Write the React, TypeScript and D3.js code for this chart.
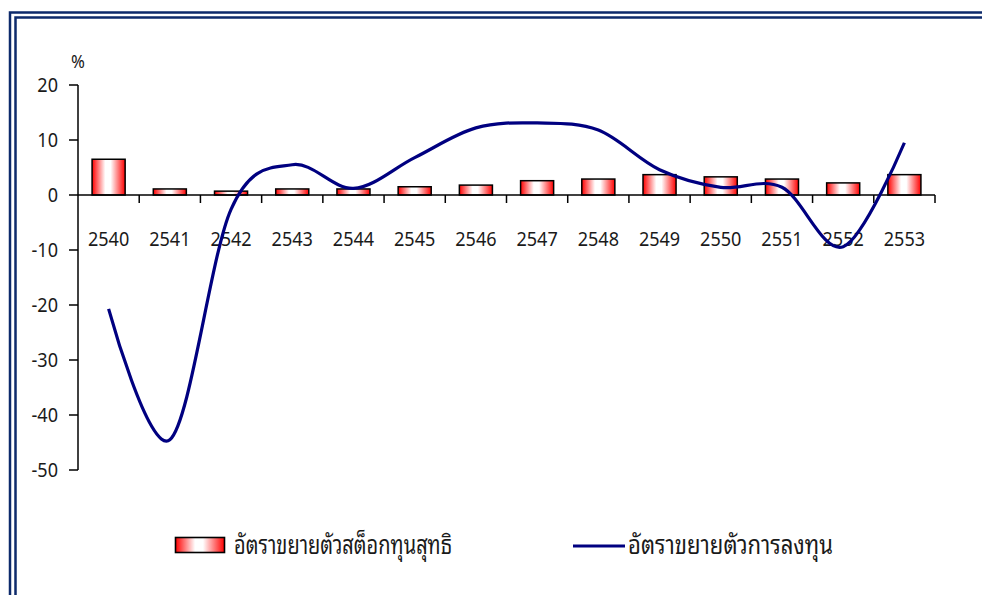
import { useEffect, useRef } from 'react'
import * as d3 from 'd3'

// ปี พ.ศ.
const years = ['2540', '2541', '2542', '2543', '2544', '2545', '2546', '2547', '2548', '2549', '2550', '2551', '2552', '2553']
// อัตราขยายตัวสต็อกทุนสุทธิ (bars)
const stockGrowth = [6.5, 1.1, 0.7, 1.1, 1.1, 1.5, 1.8, 2.6, 2.9, 3.7, 3.3, 2.9, 2.2, 3.7]
// อัตราขยายตัวการลงทุน (line)
const investGrowth = [-20.7, -44.5, -2.6, 5.5, 1.2, 6.8, 12.2, 13.1, 11.8, 4.6, 1.4, 1.4, -9.4, 9.5]
const yTicks = [20, 10, 0, -10, -20, -30, -40, -50]

const barLabel = 'อัตราขยายตัวสต็อกทุนสุทธิ'
const lineLabel = 'อัตราขยายตัวการลงทุน'

const W = 982
const H = 595
const numFont = "Tahoma, 'Noto Sans', 'DejaVu Sans', sans-serif"
const thaiFont =
  "Tahoma, 'Noto Sans Thai Looped', Loma, Garuda, Waree, 'Tlwg Typo', 'Noto Sans Thai', 'Noto Sans', sans-serif"
const ink = '#1a1a1a'
const sx = 0.88 // ตัวอักษรในภาพต้นฉบับแคบกว่าปกติ

export default function App() {
  const svgRef = useRef<SVGSVGElement | null>(null)

  useEffect(() => {
    if (!svgRef.current) return
    const svg = d3.select(svgRef.current)
    svg.selectAll('*').remove()

    const x = d3.scaleBand<string>().domain(years).range([78, 935]).padding(0)
    const y = d3.scaleLinear().domain([-50, 20]).range([470, 85])
    const bw = x.bandwidth()

    // gradient for bars
    const defs = svg.append('defs')
    const grad = defs
      .append('linearGradient')
      .attr('id', 'barGrad')
      .attr('x1', '0%')
      .attr('x2', '100%')
      .attr('y1', '0%')
      .attr('y2', '0%')
    grad.append('stop').attr('offset', '0%').attr('stop-color', '#ff0000')
    grad.append('stop').attr('offset', '40%').attr('stop-color', '#ffffff')
    grad.append('stop').attr('offset', '56%').attr('stop-color', '#ffffff')
    grad.append('stop').attr('offset', '100%').attr('stop-color', '#ff0000')

    // frame (double border)
    ;[[10, 12.5], [15.5, 17.5]].forEach(([fx, fy]) => {
      svg
        .append('rect')
        .attr('x', fx)
        .attr('y', fy)
        .attr('width', W + 20)
        .attr('height', H + 20)
        .attr('fill', 'none')
        .attr('stroke', '#0d2a6b')
        .attr('stroke-width', 2.5)
    })

    // bars
    svg
      .append('g')
      .selectAll('rect')
      .data(years)
      .join('rect')
      .attr('x', (d) => (x(d) ?? 0) + bw * 0.23)
      .attr('width', bw * 0.54)
      .attr('y', (_, i) => y(stockGrowth[i]))
      .attr('height', (_, i) => y(0) - y(stockGrowth[i]))
      .attr('fill', 'url(#barGrad)')
      .attr('stroke', '#000')
      .attr('stroke-width', 1.5)

    // y axis
    const ya = svg.append('g').attr('stroke', '#000').attr('stroke-width', 1.5)
    ya.append('line').attr('x1', 78).attr('x2', 78).attr('y1', y(20)).attr('y2', y(-50))
    ya.selectAll('line.t')
      .data(yTicks)
      .join('line')
      .attr('class', 't')
      .attr('x1', 69)
      .attr('x2', 78)
      .attr('y1', (d) => y(d))
      .attr('y2', (d) => y(d))
    svg
      .append('g')
      .selectAll('text')
      .data(yTicks)
      .join('text')
      .attr('transform', (d) => `translate(58,${y(d)}) scale(${sx},1)`)
      .attr('dy', '0.36em')
      .attr('text-anchor', 'end')
      .attr('font-family', numFont)
      .attr('font-size', 20.5)
      .attr('fill', ink)
      .text((d) => String(d))
    svg
      .append('text')
      .attr('transform', `translate(78,68) scale(${sx},1)`)
      .attr('text-anchor', 'middle')
      .attr('font-family', numFont)
      .attr('font-size', 19)
      .attr('fill', ink)
      .text('%')

    // x axis
    const xa = svg.append('g').attr('stroke', '#000').attr('stroke-width', 1.5)
    xa.append('line').attr('x1', 78).attr('x2', 935).attr('y1', y(0)).attr('y2', y(0))
    xa.selectAll('line.t')
      .data(years.slice(1).concat(['end']))
      .join('line')
      .attr('class', 't')
      .attr('x1', (d) => (d === 'end' ? 935 : x(d) ?? 0))
      .attr('x2', (d) => (d === 'end' ? 935 : x(d) ?? 0))
      .attr('y1', y(0))
      .attr('y2', y(0) + 8)
    svg
      .append('g')
      .selectAll('text')
      .data(years)
      .join('text')
      .attr('transform', (d) => `translate(${(x(d) ?? 0) + bw / 2},245.5) scale(${sx},1)`)
      .attr('text-anchor', 'middle')
      .attr('font-family', numFont)
      .attr('font-size', 20.5)
      .attr('fill', ink)
      .text((d) => d)

    // line
    const line = d3
      .line<number>()
      .x((_, i) => (x(years[i]) ?? 0) + bw / 2)
      .y((d) => y(d))
      .curve(d3.curveCatmullRom.alpha(0))
    svg
      .append('path')
      .attr('d', line(investGrowth))
      .attr('fill', 'none')
      .attr('stroke', '#000080')
      .attr('stroke-width', 3.2)
      .attr('stroke-linejoin', 'round')

    // legend
    const lg = svg.append('g')
    lg.append('rect')
      .attr('x', 175.5)
      .attr('y', 537.5)
      .attr('width', 49)
      .attr('height', 15)
      .attr('fill', 'url(#barGrad)')
      .attr('stroke', '#000')
      .attr('stroke-width', 1.6)
    lg.append('text')
      .attr('x', 234)
      .attr('y', 553.5)
      .attr('font-family', thaiFont)
      .attr('font-size', 26)
      .attr('textLength', 218)
      .attr('lengthAdjust', 'spacingAndGlyphs')
      .attr('fill', ink)
      .text(barLabel)
    lg.append('line')
      .attr('x1', 573)
      .attr('x2', 625)
      .attr('y1', 546)
      .attr('y2', 546)
      .attr('stroke', '#000080')
      .attr('stroke-width', 3.2)
    lg.append('text')
      .attr('x', 628)
      .attr('y', 553.5)
      .attr('font-family', thaiFont)
      .attr('font-size', 26)
      .attr('textLength', 205)
      .attr('lengthAdjust', 'spacingAndGlyphs')
      .attr('fill', ink)
      .text(lineLabel)
  }, [])

  return (
    <svg
      ref={svgRef}
      width={W}
      height={H}
      style={{ position: 'absolute', left: 0, top: 0, background: '#fff' }}
    />
  )
}
